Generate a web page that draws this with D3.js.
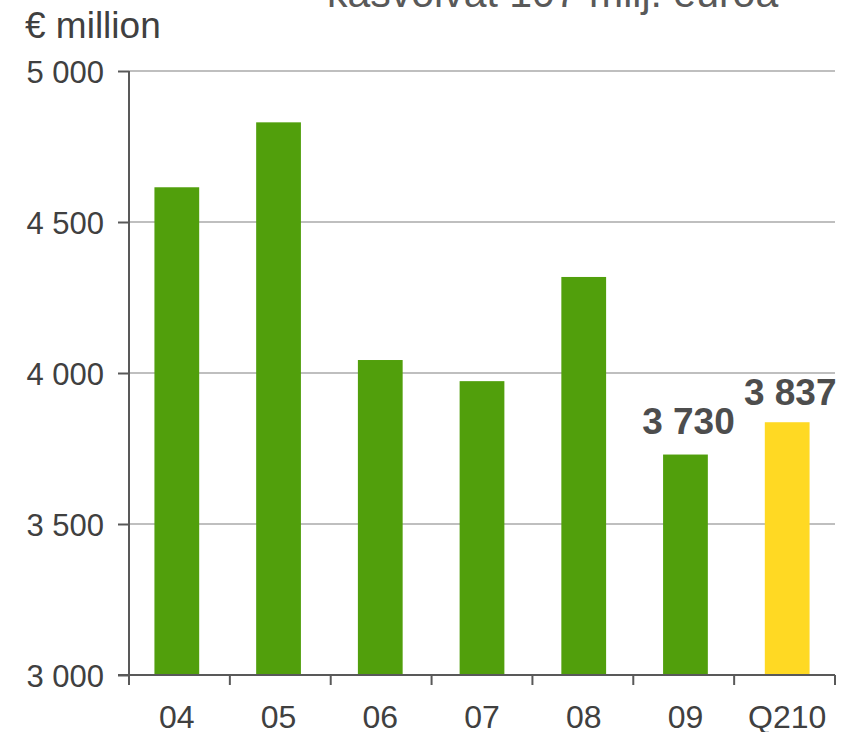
<!DOCTYPE html>
<html>
<head>
<meta charset="utf-8">
<script src="https://cdn.jsdelivr.net/npm/d3@7"></script>
<style>
  body { margin: 0; background: #fff; }
  text { font-family: "Liberation Sans", Arial, sans-serif; }
</style>
</head>
<body>
<div id="chart-area"></div>
<script>
// data
var categories = ["04", "05", "06", "07", "08", "09", "Q210"];
var values     = [4615, 4830, 4043, 3973, 4318, 3730, 3837];
var yTicks     = [3000, 3500, 4000, 4500, 5000];
var labelled   = ["09", "Q210"];
var highlight  = "Q210";

var svgWidth  = 842;
var svgHeight = 732;
var margin = { top: 71, left: 129, bottom: 57, right: 7 };
var width  = svgWidth - margin.left - margin.right;
var height = svgHeight - margin.top - margin.bottom;

var data = categories.map((c, i) => ({ cat: c, value: values[i] }));
var spaced = (d) => d3.format(",")(d).replace(",", " ");

var svg = d3.select("#chart-area")
            .append("svg")
            .attr("width", svgWidth)
            .attr("height", svgHeight);

// cut-off title at top
svg.append("text")
   .attr("x", 327)
   .attr("y", 7)
   .attr("font-size", "41px")
   .attr("fill", "#595959")
   .text("kasvoivat 107 milj. euroa");

svg.append("text")
   .attr("x", 25)
   .attr("y", 38)
   .attr("font-size", "37px")
   .attr("fill", "#404040")
   .text("€ million");

var g = svg.append("g")
           .attr("transform", "translate(" + margin.left + ", " + margin.top + ")");

var x = d3.scaleBand()
          .domain(categories)
          .range([0, width])
          .paddingInner(0.56)
          .paddingOuter(0.25);

var y = d3.scaleLinear()
          .domain([3000, 5000])
          .range([height, 0]);

// grid lines
g.selectAll(".grid")
 .data(yTicks.filter((d) => d > 3000))
 .enter()
 .append("line")
 .attr("x1", 0)
 .attr("x2", width)
 .attr("y1", (d) => y(d))
 .attr("y2", (d) => y(d))
 .attr("stroke", "#bfbfbf")
 .attr("stroke-width", 2);

// bars
g.selectAll("rect")
 .data(data)
 .enter()
 .append("rect")
 .attr("x", (d) => x(d.cat))
 .attr("width", x.bandwidth())
 .attr("y", (d) => y(d.value))
 .attr("height", (d) => height - y(d.value))
 .attr("fill", (d) => d.cat === highlight ? "#ffd923" : "#519f0c");

// value labels
g.selectAll(".val")
 .data(data.filter((d) => labelled.indexOf(d.cat) >= 0))
 .enter()
 .append("text")
 .attr("x", (d) => x(d.cat) + x.bandwidth() / 2 + 3)
 .attr("y", (d) => y(d.value) - (d.cat === highlight ? 17 : 21))
 .attr("text-anchor", "middle")
 .attr("font-size", "37px")
 .attr("font-weight", "bold")
 .attr("fill", "#4d4d4d")
 .text((d) => spaced(d.value));

// y axis
var yAxisCall = d3.axisLeft(y)
                  .tickValues(yTicks)
                  .tickSize(11)
                  .tickFormat(spaced);

var yAxisGroup = g.append("g").call(yAxisCall);
yAxisGroup.select(".domain").remove();
yAxisGroup.append("line")
          .attr("x1", 0).attr("x2", 0)
          .attr("y1", 0).attr("y2", height)
          .attr("stroke", "#595959").attr("stroke-width", 2);
yAxisGroup.selectAll(".tick line").attr("stroke", "#595959").attr("stroke-width", 2);
yAxisGroup.selectAll("text")
          .attr("font-size", "31px")
          .attr("fill", "#404040")
          .attr("x", -25)
          .attr("dy", "0.36em");

// x axis: ticks on band boundaries
var xAxisGroup = g.append("g")
                  .attr("transform", "translate(0," + height + ")");
xAxisGroup.append("line")
          .attr("x1", -11).attr("x2", width)
          .attr("stroke", "#595959").attr("stroke-width", 2);
xAxisGroup.selectAll(".xt")
          .data(d3.range(categories.length + 1))
          .enter()
          .append("line")
          .attr("x1", (d) => d * (width / categories.length))
          .attr("x2", (d) => d * (width / categories.length))
          .attr("y1", 0)
          .attr("y2", 10)
          .attr("stroke", "#595959")
          .attr("stroke-width", 2);
xAxisGroup.selectAll(".xl")
          .data(categories)
          .enter()
          .append("text")
          .attr("x", (d) => x(d) + x.bandwidth() / 2)
          .attr("y", 53)
          .attr("text-anchor", "middle")
          .attr("font-size", "32px")
          .attr("fill", "#404040")
          .text((d) => d);
</script>
</body>
</html>
